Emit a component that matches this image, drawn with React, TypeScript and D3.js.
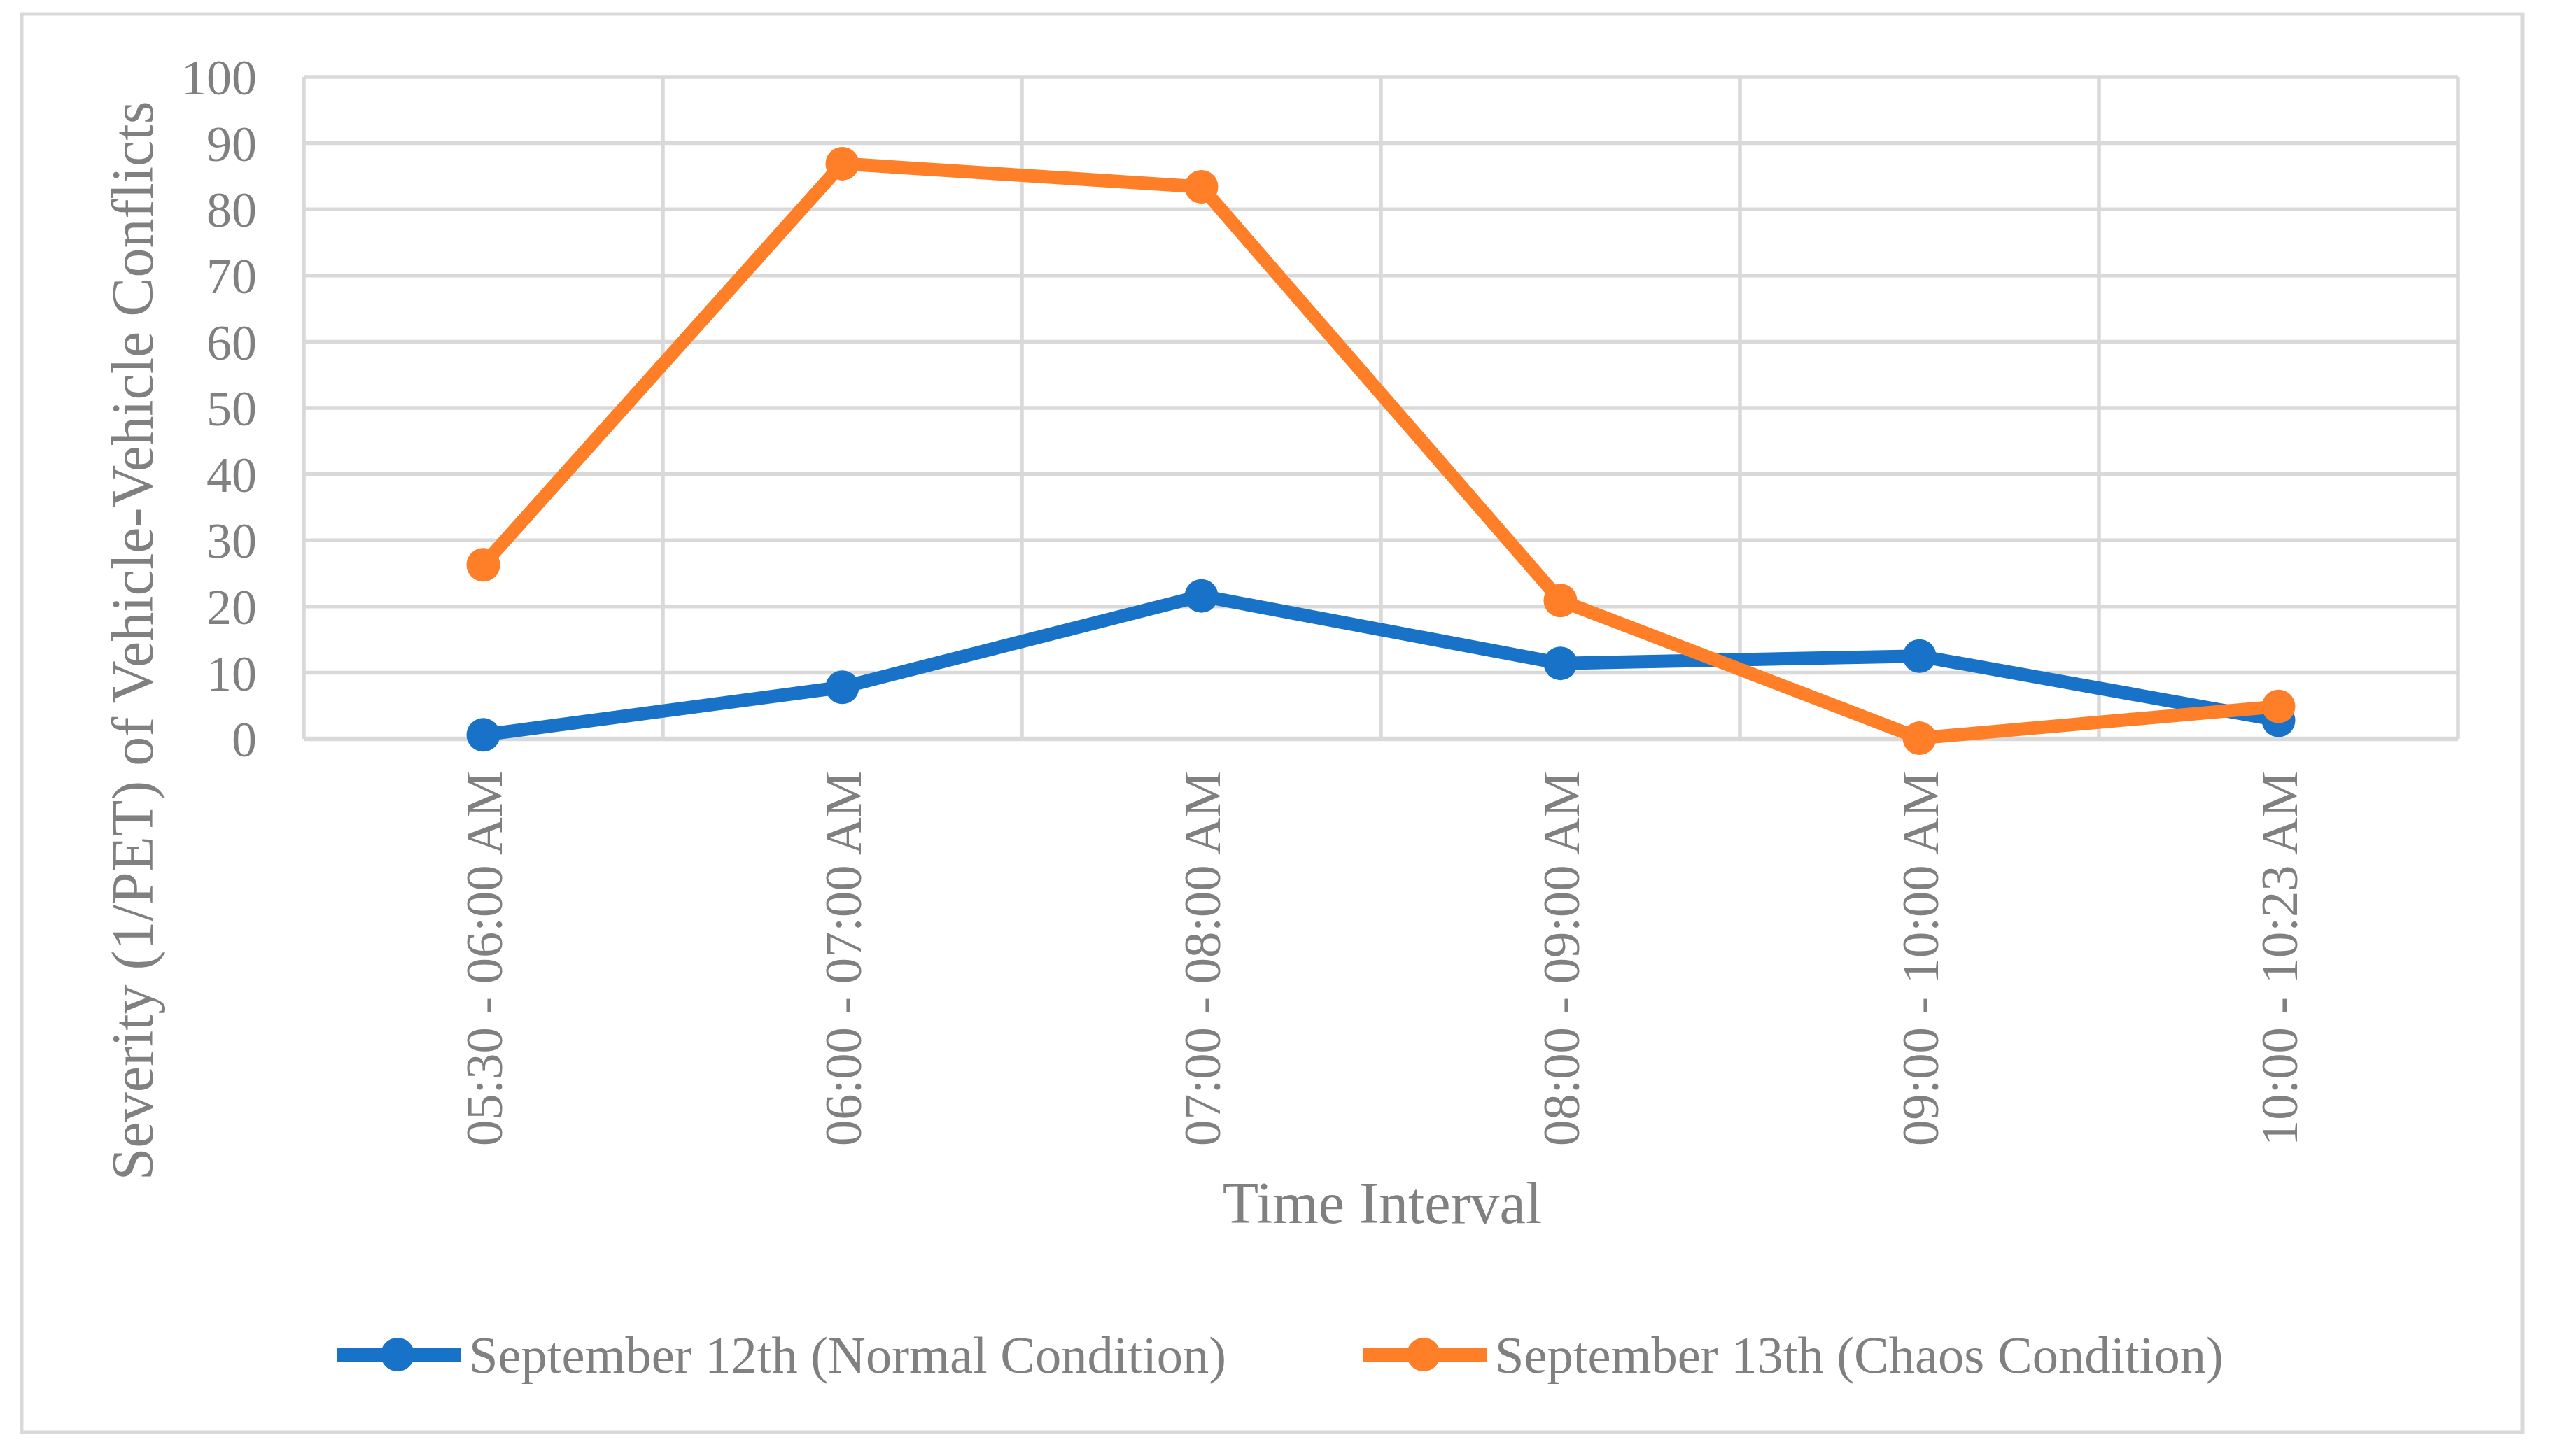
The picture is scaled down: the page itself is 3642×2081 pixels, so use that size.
import * as d3 from 'd3';
import React from 'react';

const categories = [
  '05:30 - 06:00 AM',
  '06:00 - 07:00 AM',
  '07:00 - 08:00 AM',
  '08:00 - 09:00 AM',
  '09:00 - 10:00 AM',
  '10:00 - 10:23 AM',
];
const normalValues = [0.6, 7.8, 21.6, 11.4, 12.5, 2.8];
const chaosValues = [26.3, 86.9, 83.4, 20.9, 0.1, 4.9];
const seriesNames = [
  'September 12th (Normal Condition)',
  'September 13th (Chaos Condition)',
];
const yTicks = [0, 10, 20, 30, 40, 50, 60, 70, 80, 90, 100];

const width = 3642;
const height = 2081;
const plot = { left: 434, right: 3512, top: 110, bottom: 1056 };
const colors = ['#1872C7', '#FE7F27'];
const textColor = '#808080';
const gridColor = '#d9d9d9';
const font = "'Times New Roman', 'Liberation Serif', serif";

const App = () => {
  const x = d3
    .scaleBand()
    .domain(categories)
    .range([plot.left, plot.right])
    .paddingInner(0)
    .paddingOuter(0);
  const y = d3.scaleLinear().domain([0, 100]).range([plot.bottom, plot.top]);
  const cx = (c: string) => (x(c) as number) + x.bandwidth() / 2;

  const line = d3
    .line<number>()
    .x((_, i) => cx(categories[i]))
    .y((d) => y(d));

  const series = [normalValues, chaosValues];

  // vertical gridlines sit on band edges
  const edges = categories.map((c) => x(c) as number).concat([plot.right]);

  const legendX = [482, 1948];
  const legendY = 1936;

  return (
    <svg
      width={width}
      height={height}
      style={{ position: 'absolute', left: 0, top: 0, background: '#fff' }}
      fontFamily={font}
    >
      <rect x={0} y={0} width={width} height={height} fill="#fff" />
      <rect
        x={31}
        y={20}
        width={3573}
        height={2027}
        fill="#fff"
        stroke={gridColor}
        strokeWidth={5}
      />

      {yTicks.map((t) => (
        <line
          key={'h' + t}
          x1={plot.left}
          x2={plot.right}
          y1={y(t)}
          y2={y(t)}
          stroke={gridColor}
          strokeWidth={t === 0 ? 6.5 : 5.5}
        />
      ))}
      {edges.map((e, i) => (
        <line
          key={'v' + i}
          x1={e}
          x2={e}
          y1={plot.top}
          y2={plot.bottom}
          stroke={gridColor}
          strokeWidth={5.5}
        />
      ))}

      {yTicks.map((t) => (
        <text
          key={'yt' + t}
          x={367}
          y={y(t)}
          dy="0.35em"
          textAnchor="end"
          fontSize={72}
          fill={textColor}
        >
          {t}
        </text>
      ))}

      {categories.map((c) => (
        <text
          key={c}
          transform={`translate(${cx(c)},1102) rotate(-90)`}
          dy="0.35em"
          textAnchor="end"
          fontSize={74.5}
          fill={textColor}
        >
          {c}
        </text>
      ))}

      <text
        transform="translate(218,916) rotate(-90)"
        textAnchor="middle"
        fontSize={84}
        fill={textColor}
      >
        Severity (1/PET) of Vehicle-Vehicle Conflicts
      </text>
      <text x={1975} y={1748} textAnchor="middle" fontSize={84} fill={textColor}>
        Time Interval
      </text>

      {series.map((vals, si) => (
        <g key={'s' + si}>
          <path
            d={line(vals) as string}
            fill="none"
            stroke={colors[si]}
            strokeWidth={19}
            strokeLinejoin="round"
          />
          {vals.map((v, i) => (
            <circle
              key={i}
              cx={cx(categories[i])}
              cy={y(v)}
              r={24}
              fill={colors[si]}
            />
          ))}
        </g>
      ))}

      {seriesNames.map((name, si) => (
        <g key={'l' + si} transform={`translate(${legendX[si]},${legendY})`}>
          <line x1={0} x2={177} y1={0} y2={0} stroke={colors[si]} strokeWidth={20} />
          <circle cx={86} cy={0} r={24} fill={colors[si]} />
          <text x={188} y={0} dy="0.35em" fontSize={74.5} fill={textColor}>
            {name}
          </text>
        </g>
      ))}
    </svg>
  );
};

export default App;
